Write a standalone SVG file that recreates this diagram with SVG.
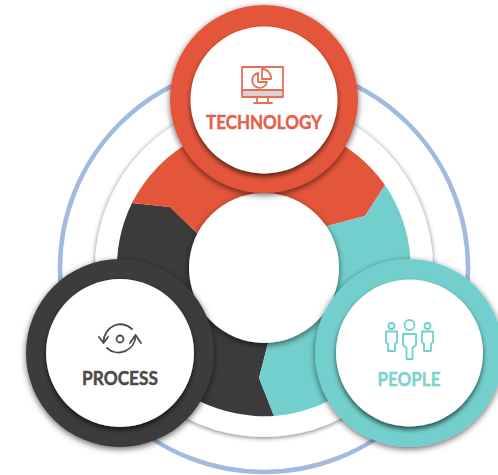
<svg xmlns="http://www.w3.org/2000/svg" width="498" height="475" viewBox="0 0 498 475">
<defs>
<filter id="sh" x="-20%" y="-20%" width="140%" height="140%"><feDropShadow dx="0" dy="2" stdDeviation="3" flood-color="#000" flood-opacity="0.6"/></filter>
<filter id="shr" x="-20%" y="-20%" width="140%" height="140%"><feDropShadow dx="0" dy="1" stdDeviation="2.500" flood-color="#000" flood-opacity="0.55"/></filter>
<filter id="shi" x="-20%" y="-20%" width="140%" height="140%"><feDropShadow dx="0" dy="3" stdDeviation="2.500" flood-color="#000" flood-opacity="0.65"/></filter>
</defs>
<style>
.lbl{font-family:"Lato","Liberation Sans",sans-serif;font-weight:700;font-size:19px;text-anchor:middle;stroke-width:.45}
.ico{fill:none;stroke-width:1.8;stroke-linecap:round;stroke-linejoin:round}
</style>
<rect width="498" height="475" fill="#fff"/>
<g id="rings">
<circle cx="264" cy="268" r="204" fill="none" stroke="#a3b9e0" stroke-width="4.500"/>
<circle cx="264" cy="268" r="169" fill="#fff" filter="url(#shr)"/>
</g>
<g id="segments">
<path d="M132 203L170 207L197 233L264 268L268 343L259 378L274 416A148 148 0 0 1 132 203Z" fill="#3c3a3b"/>
<path d="M132 203L170 207L197 233L264 268L327 226L365 216L385 185A148 148 0 0 0 132 203Z" fill="#e4563a"/>
<path d="M385 185L365 216L327 226L264 268L268 343L259 378L274 416A148 148 0 0 0 385 185Z" fill="#73cfcd"/>
<circle cx="264" cy="268" r="75" fill="#fff" filter="url(#sh)"/>
</g>
<g id="technology">
<circle cx="264" cy="99" r="94" fill="#e4563a" filter="url(#sh)"/>
<circle cx="264" cy="100" r="73.500" fill="#fff" filter="url(#shi)"/>
<rect x="242" y="90" width="41" height="7" fill="#d9d2d0"/>
<g class="ico" stroke="#e4705a">
<rect x="242" y="67" width="41" height="30"/>
<path d="M242 90H283M257 97V103M268 97V103M254 103H272"/>
<path d="M258 73A7.500 7.500 0 1 0 267 82H258Z"/>
<path d="M262 69A9 9 0 0 1 271 79H262Z"/>
</g>
<text class="lbl" x="264" y="129" fill="#e4604a" stroke="#e4604a" textLength="116" lengthAdjust="spacingAndGlyphs">TECHNOLOGY</text>
</g>
<g id="process">
<circle cx="120" cy="353" r="94" fill="#3c3a3b" filter="url(#sh)"/>
<circle cx="120" cy="353" r="74" fill="#fff" filter="url(#shi)"/>
<g class="ico" stroke="#4a4a4a">
<circle cx="120" cy="339" r="3.500"/>
<path d="M103.500 342A17 18 0 0 1 132 329M135.500 336A17 17 0 0 1 107 348"/>
<path d="M99 337L103.500 343L108 337M130 343L135.500 335L141 343"/>
</g>
<text class="lbl" x="120" y="385" fill="#4a4a4a" stroke="#4a4a4a" textLength="76" lengthAdjust="spacingAndGlyphs">PROCESS</text>
</g>
<g id="people">
<circle cx="409" cy="353" r="94" fill="#73cfcd" filter="url(#sh)"/>
<circle cx="409.500" cy="353" r="73.500" fill="#fff" filter="url(#shi)"/>
<g class="ico" stroke="#73cfcd">
<circle cx="409.500" cy="325" r="5"/>
<circle cx="391.500" cy="326" r="3"/>
<circle cx="427.500" cy="326" r="3"/>
<path d="M403 334H416V345L412.500 348V359H406.500V348L403 345Z"/>
<path d="M386 331.500H397V342L395 344V351H388V344L386 342Z"/>
<path d="M422 331.500H433V342L431 344V351H424V344L422 342Z"/>
</g>
<text class="lbl" x="409" y="386" fill="#7dd3d1" stroke="#7dd3d1" textLength="63" lengthAdjust="spacingAndGlyphs">PEOPLE</text>
</g>
</svg>
